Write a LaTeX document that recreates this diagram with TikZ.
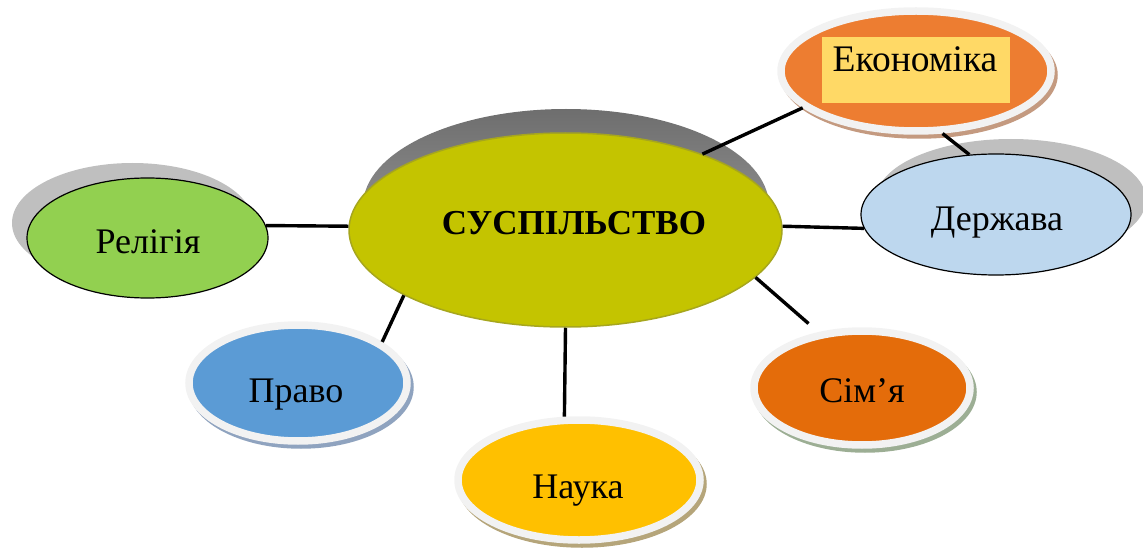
\documentclass[tikz,border=0pt]{standalone}
\usepackage{fontspec}
\setmainfont{Liberation Serif}
\usetikzlibrary{shapes.geometric}
\definecolor{mainfill}{HTML}{C4C400}
\definecolor{mainedge}{HTML}{A6A61E}
\definecolor{relfill}{HTML}{92D050}
\definecolor{derfill}{HTML}{BDD7EE}
\definecolor{ecofill}{HTML}{ED7D31}
\definecolor{ecobox}{HTML}{FFD966}
\definecolor{prafill}{HTML}{5B9BD5}
\definecolor{naufill}{HTML}{FFC000}
\definecolor{simfill}{HTML}{E46C0A}
\definecolor{ringgray}{HTML}{F2F2F2}
\definecolor{ecosh}{HTML}{C49A80}
\definecolor{prash}{HTML}{8FA3BF}
\definecolor{naush}{HTML}{B5A57A}
\definecolor{simsh}{HTML}{9CAE94}
\definecolor{flatsh}{HTML}{BFBFBF}
\definecolor{mainshtop}{HTML}{6E6E6E}
\definecolor{mainshbot}{HTML}{A8A8A8}
\begin{document}
\begin{tikzpicture}[x=1pt,y=-1pt,
  oval/.style={ellipse, inner sep=0pt},
  ringoval/.style={oval, draw=ringgray, line width=7.5pt},
  flatoval/.style={oval, draw=black, line width=1.2pt},
  txt/.style={anchor=base, inner sep=0pt, font=\fontsize{36}{40}\selectfont},
  link/.style={line width=3.4pt, black}
]
\useasboundingbox (0,0) rectangle (1143,548);

% shadows
\node[oval, top color=mainshtop, bottom color=mainshbot, minimum width=406, minimum height=194] (mainsh) at (566,206) {};
\node[oval, fill=flatsh, minimum width=241, minimum height=120] (relsh) at (132.5,223) {};
\node[oval, fill=flatsh, minimum width=270, minimum height=121] (dersh) at (1011,199.5) {};
\node[oval, fill=ecosh, minimum width=277.5, minimum height=127.5] (ecosh) at (919,75) {};
\node[oval, fill=prash, minimum width=225.5, minimum height=123.5] (prash) at (301,387) {};
\node[oval, fill=naush, minimum width=249.5, minimum height=127.5] (naush) at (582,484) {};
\node[oval, fill=simsh, minimum width=223.5, minimum height=121.5] (simsh) at (865,392) {};

% main nodes
\node[oval, fill=mainfill, draw=mainedge, line width=1.5pt, minimum width=433, minimum height=194] (main) at (565.5,230) {};
\node[flatoval, fill=relfill, minimum width=241, minimum height=120] (rel) at (147.5,238) {};
\node[flatoval, fill=derfill, minimum width=270, minimum height=121] (der) at (996,214.5) {};
\node[ringoval, fill=ecofill, minimum width=270, minimum height=120] (eco) at (916,71) {};
\node[ringoval, fill=prafill, minimum width=218, minimum height=116] (pra) at (298,383) {};
\node[ringoval, fill=naufill, minimum width=242, minimum height=120] (nau) at (579,480) {};
\node[ringoval, fill=simfill, minimum width=216, minimum height=114] (sim) at (862,388) {};
\node[fill=ecobox, inner sep=0pt, minimum width=188, minimum height=66] (ecobx) at (916,70) {};

% connectors
\draw[link] (main.29) -- (eco.198);
\draw[link] (eco.293) -- (der.114);
\draw[link] (main.1) -- (der.186);
\draw[link] (rel.6) -- (main.179);
\draw[link] (main.202) -- (pra.26);
\draw[link] (main.south) -- (nau.103);
\draw[link, shorten >=13pt] (main.346) -- (sim.128);

% texts
\node[txt, font=\fontsize{35}{40}\selectfont\bfseries] (maintxt) at (574,235) {СУСПІЛЬСТВО};
\node[txt] (reltxt) at (148,253) {Релігія};
\node[txt] (dertxt) at (997,230) {Держава};
\node[txt, font=\fontsize{37.5}{40}\selectfont] (ecotxt) at (915,72) {Економіка};
\node[txt] (pratxt) at (296,402) {Право};
\node[txt] (nautxt) at (578,498) {Наука};
\node[txt] (simtxt) at (862,402) {Сім’я};
\end{tikzpicture}
\end{document}
